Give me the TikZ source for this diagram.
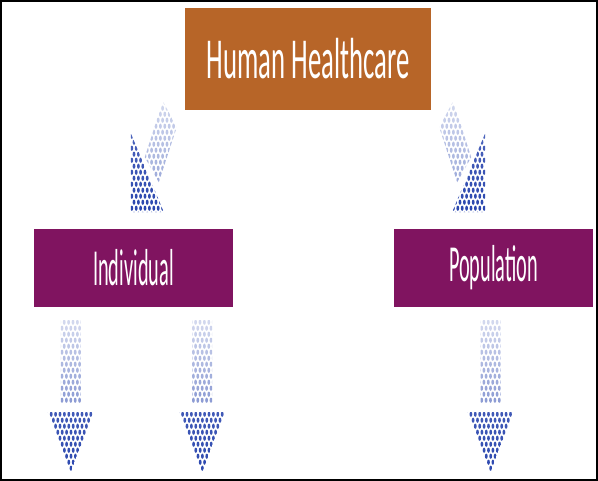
\documentclass[tikz,border=0pt]{standalone}
\usepackage{fontspec}
\setmainfont{Carlito}
\usetikzlibrary{calc}

\definecolor{hhbrown}{RGB}{183,101,40}
\definecolor{lvlpurple}{RGB}{128,20,96}
\definecolor{dotblue}{RGB}{30,60,170}

\tikzset{
	topbox/.style={fill=hhbrown, text=white, minimum width=246, minimum height=102, inner sep=0},
	subbox/.style={fill=lvlpurple, text=white, minimum width=199, minimum height=78, inner sep=0},
}

% a patch of dots, clipped to a path, shaded from top to bottom
\newcommand{\dotpatch}[5]{%
	\begin{scope}
		\clip #1;
		\foreach \r in {0,...,17} {
			\pgfmathsetmacro\sh{#4+(#5-#4)*\r/17}
			\foreach \c in {0,...,12} {
				\fill[dotblue!\sh!white] ({#2+\c*4.4+mod(\r,2)*2.2},{#3+\r*6}) ellipse (1.4 and 2.6);
			}
		}
	\end{scope}}

% a dotted arrow pointing down, from the top of its shaft
\newcommand{\downdots}[1]{%
	\begin{scope}[shift={#1}]
		\dotpatch{(-10,-2) rectangle (10,80)}{-11}{0}{20}{60}
		\dotpatch{(-23,90) -- (23,90) -- (0,150) -- cycle}{-24}{92}{85}{100}
	\end{scope}}

% a dotted arrow slanting down and to the left
\newcommand{\slantdots}{%
	\dotpatch{(-22,-9) -- (-8,17) -- (-26,72) -- (-40,47) -- cycle}{-42}{-8}{20}{50}
	\dotpatch{(-54,23) -- (-54,102) -- (-21,102) -- cycle}{-53}{26}{80}{100}}

\begin{document}
\begin{tikzpicture}[x=1pt,y=-1pt]
	\useasboundingbox (0,0) rectangle (598,481);
	\fill[white] (0,0) rectangle (598,481);
	\draw[line width=2] (1,1) rectangle (597,480);

	\node[topbox] (hh) at (308,59) {\scalebox{0.46}[1]{\fontsize{58}{62}\selectfont Human Healthcare}};
	\node[subbox] (ind) at (133.5,268) {\scalebox{0.39}[1]{\fontsize{52}{56}\selectfont Individual}};
	\node[subbox] (pop) at (493.5,268) {\scalebox{0.39}[1]{\fontsize{52}{56}\selectfont Population}};

	% arrows from the top box
	\begin{scope}[shift={(hh.south west)}]
		\slantdots
	\end{scope}
	\begin{scope}[shift={(hh.south east)}, xscale=-1]
		\slantdots
	\end{scope}

	% arrows below the two boxes
	\downdots{($(ind.south west)+(37,15)$)}
	\downdots{($(ind.south east)+(-31,15)$)}
	\downdots{($(pop.south)+(-3,15)$)}
\end{tikzpicture}
\end{document}
